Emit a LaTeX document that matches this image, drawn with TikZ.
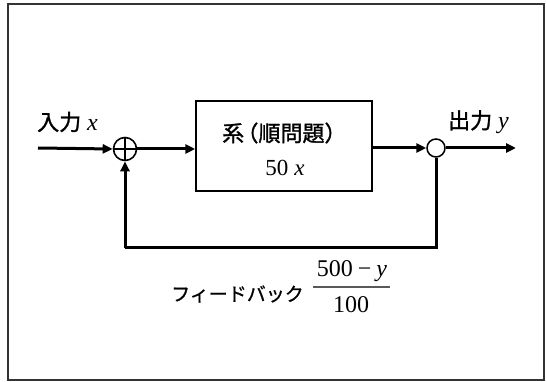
\documentclass[tikz,border=0pt]{standalone}
\usepackage{fontspec}
\setmainfont{Liberation Serif}
\newfontfamily\jp{Noto Sans CJK JP}[FakeBold=0.8]
\newfontfamily\jpb{Noto Sans CJK JP}[FakeBold=1.3]
\usetikzlibrary{arrows.meta}
\tikzset{
  sig/.style={line width=3pt, -{Triangle[length=10pt,width=9pt]}},
  wire/.style={line width=3pt},
  blk/.style={draw, line width=1.5pt, minimum width=176pt, minimum height=90pt, inner sep=0pt},
  sumc/.style={draw, circle, line width=1.6pt, minimum size=23pt, inner sep=0pt},
  brc/.style={draw, circle, line width=1.5pt, fill=white, minimum size=18pt, inner sep=0pt},
  lbl/.style={inner sep=0pt, font=\fontsize{22}{26}\selectfont},
  big/.style={inner sep=0pt, font=\fontsize{24}{28}\selectfont},
}
\begin{document}
\begin{tikzpicture}[x=1pt,y=-1pt]
\useasboundingbox (0,0) rectangle (547,382);
\draw[line width=1.4pt, draw=black!80] (8,4) rectangle (544,380);
% blocks
\node[sumc] (sum) at (125,149) {};
\draw[line width=1.2pt] (sum.north) -- (sum.south) (sum.west) -- (sum.east);
\node[blk] (sys) at (284,146) {};
\node[brc] (br) at (436,148) {};
\coordinate (in) at (38,148);
\coordinate (out) at (516,148);
\coordinate (bl) at (125,248);
\coordinate (brb) at (436,248);
% box texts
\node[lbl, anchor=west] (t1) at (222,133) {{\jpb 系\kern-.35em（順問題）}};
\node[lbl, font=\fontsize{23}{27}\selectfont] (t2) at (285,168) {50\hspace{6pt}\textit{x}};
% labels
\node[lbl, anchor=west] (inl) at (37,122) {{\jpb 入力}\hspace{6pt}{\fontsize{24}{28}\selectfont\textit{x}}};
\node[lbl, anchor=west] (outl) at (448,122) {{\jpb 出力}\hspace{6pt}{\fontsize{24}{28}\selectfont\textit{y}}};
\node[lbl, anchor=west, font=\fontsize{19}{22}\selectfont] (fb) at (171,294) {{\jp フィードバック}};
\node[big] (num) at (352,271) {500\hspace{5pt}\textminus\hspace{5pt}\textit{y}};
\node[big] (den) at (351,305) {100};
\coordinate (barl) at (313,287);
\coordinate (barr) at (390,287);
\draw[line width=1.8pt, draw=black!65] (barl) -- (barr);
% connectors
\draw[sig] (in) -- (sum.west);
\draw[sig] (sum.east) -- (sys.west |- sum.east);
\draw[sig] (sys.east |- br.west) -- (br.west);
\draw[sig] (br.east) -- (out);
\draw[wire] (br.south) -- (brb) -- (bl);
\draw[sig] (bl) -- (sum.south);
\end{tikzpicture}
\end{document}
